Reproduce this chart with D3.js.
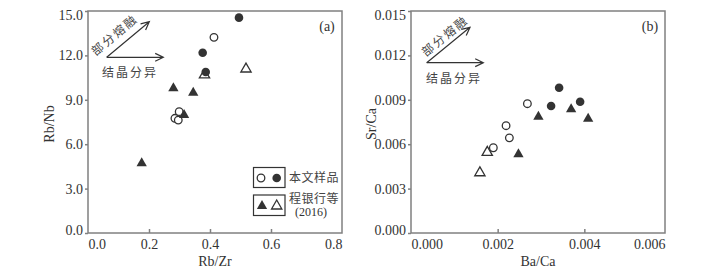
<!DOCTYPE html>
<html>
<head>
    <script src="https://cdnjs.cloudflare.com/ajax/libs/d3/7.8.5/d3.min.js"></script>
    <style>
        body { margin: 0; background: #fff; }
        .tick text { font-family: 'Liberation Serif', 'DejaVu Serif', serif; font-size: 14px; fill: #333; }
        .title { font-family: 'Liberation Serif', serif; font-size: 14px; fill: #333; }
        .cn { font-family: 'Noto Sans CJK SC', sans-serif; font-size: 12px; fill: #444; }
    </style>
</head>
<body>
<script>
    // panel (a) Rb/Zr vs Rb/Nb
    const aXTicks = [0, 0.2, 0.4, 0.6, 0.8]
    const aYTicks = [0, 3, 6, 9, 12, 15]
    const aOpenCircle = [[0.413, 13.22], [0.299, 8.2], [0.285, 7.75], [0.296, 7.63]]
    const aFilledCircle = [[0.495, 14.55], [0.376, 12.18], [0.386, 10.88]]
    const aFilledTri = [[0.280, 9.78], [0.345, 9.48], [0.315, 7.97], [0.176, 4.71]]
    const aOpenTri = [[0.382, 10.68], [0.518, 11.08]]

    // panel (b) Ba/Ca vs Sr/Ca
    const bXTicks = [0, 0.002, 0.004, 0.006]
    const bYTicks = [0, 0.003, 0.006, 0.009, 0.012, 0.015]
    const bOpenCircle = [[0.002686, 0.008736], [0.002194, 0.00725], [0.00227, 0.00643], [0.0019, 0.00576]]
    const bFilledCircle = [[0.003418, 0.009818], [0.003233, 0.008581], [0.003903, 0.008872]]
    const bFilledTri = [[0.00294, 0.00786], [0.003695, 0.00836], [0.004088, 0.00772], [0.00248, 0.00532]]
    const bOpenTri = [[0.00176, 0.00545], [0.00159, 0.00407]]

    const dark = '#333'
    const frameColor = '#808080'

    const svg = d3.select("body").append("svg")
        .attr("width", 721)
        .attr("height", 271)

    const tri = d3.symbol().type(d3.symbolTriangle).size(46)

    function drawPanel(p) {
        const x = d3.scaleLinear().domain([p.xTicks[0], p.xTicks[p.xTicks.length - 1]]).range([p.left, p.xEnd])
        const y = d3.scaleLinear().domain([p.yTicks[0], p.yTicks[p.yTicks.length - 1]]).range([p.bottom, p.top])
        const g = svg.append("g")

        // x axis, ticks pointing inward
        const xa = g.append("g")
            .attr("transform", `translate(0,${p.bottom})`)
            .call(d3.axisBottom(x).tickValues(p.xTicks).tickFormat(d3.format(p.xFmt)).tickSizeInner(-4).tickSizeOuter(0).tickPadding(6))
        xa.select(".domain").remove()
        xa.selectAll(".tick line").attr("stroke", frameColor).attr("stroke-width", 1.5)
            .filter((d, i) => i == 0 || i == p.xTicks.length - 1).remove()
        xa.selectAll(".tick text").each(function (d, i) {
            if (i == 0) d3.select(this).attr("text-anchor", "start").attr("x", 0)
            if (i == p.xTicks.length - 1) d3.select(this).attr("text-anchor", "end").attr("x", p.right - x(d))
        })

        // y axis, ticks outward
        const ya = g.append("g")
            .attr("transform", `translate(${p.left},0)`)
            .call(d3.axisLeft(y).tickValues(p.yTicks).tickFormat(d3.format(p.yFmt)).tickSizeInner(3).tickSizeOuter(0).tickPadding(2))
        ya.select(".domain").remove()
        ya.selectAll(".tick line").attr("stroke", frameColor).attr("stroke-width", 1.5)
        ya.selectAll(".tick text").each(function (d, i) {
            if (i == 0) d3.select(this).attr("dy", "0.1em")
            if (i == p.yTicks.length - 1) d3.select(this).attr("dy", "0.6em")
        })

        g.append("rect")
            .attr("x", p.left).attr("y", p.top)
            .attr("width", p.right - p.left).attr("height", p.bottom - p.top)
            .attr("fill", "none").attr("stroke", frameColor).attr("stroke-width", 1.5)

        g.append("text").attr("class", "title")
            .attr("x", (p.left + p.right) / 2).attr("y", 266)
            .attr("text-anchor", "middle").text(p.xTitle)
        g.append("text").attr("class", "title")
            .attr("transform", `translate(${p.yTitleX},124) rotate(-90)`)
            .attr("text-anchor", "middle").text(p.yTitle)
        g.append("text").attr("class", "title")
            .attr("x", p.tagX).attr("y", 31)
            .attr("text-anchor", "middle").text(p.tag)

        // arrows
        const s = p.arrowStart
        drawArrow(g, s, p.upEnd)
        drawArrow(g, s, p.rightEnd)
        const ang = Math.atan2(p.upEnd[1] - s[1], p.upEnd[0] - s[0]) * 180 / Math.PI
        g.append("text").attr("class", "cn")
            .attr("transform", `translate(${p.meltText[0]},${p.meltText[1]}) rotate(${ang})`)
            .attr("text-anchor", "middle").attr("dy", "0.35em")
            .attr("letter-spacing", 2).text("部分熔融")
        g.append("text").attr("class", "cn")
            .attr("x", p.fracText[0]).attr("y", p.fracText[1])
            .attr("text-anchor", "middle").attr("dy", "0.35em")
            .attr("letter-spacing", 2).text("结晶分异")

        // points
        g.selectAll(".ot").data(p.openTri).enter().append("path")
            .attr("d", tri).attr("transform", d => `translate(${x(d[0])},${y(d[1])})`)
            .attr("fill", "#fff").attr("stroke", dark).attr("stroke-width", 1.3)
        g.selectAll(".oc").data(p.openCircle).enter().append("circle")
            .attr("cx", d => x(d[0])).attr("cy", d => y(d[1])).attr("r", 3.8)
            .attr("fill", "#fff").attr("stroke", dark).attr("stroke-width", 1.3)
        g.selectAll(".ft").data(p.filledTri).enter().append("path")
            .attr("d", tri).attr("transform", d => `translate(${x(d[0])},${y(d[1])})`)
            .attr("fill", dark)
        g.selectAll(".fc").data(p.filledCircle).enter().append("circle")
            .attr("cx", d => x(d[0])).attr("cy", d => y(d[1])).attr("r", 4.3)
            .attr("fill", dark)
    }

    function drawArrow(g, a, b) {
        const ang = Math.atan2(b[1] - a[1], b[0] - a[0])
        const L = 9, w = 0.45
        g.append("path")
            .attr("d", `M${a[0]},${a[1]}L${b[0]},${b[1]}` +
                `M${b[0] - L * Math.cos(ang - w)},${b[1] - L * Math.sin(ang - w)}L${b[0]},${b[1]}` +
                `L${b[0] - L * Math.cos(ang + w)},${b[1] - L * Math.sin(ang + w)}`)
            .attr("fill", "none").attr("stroke", dark).attr("stroke-width", 1.2)
    }

    drawPanel({
        xTicks: aXTicks, yTicks: aYTicks, xFmt: ".1f", yFmt: ".1f",
        left: 88, xEnd: 332, right: 342, top: 11, bottom: 233,
        openCircle: aOpenCircle, filledCircle: aFilledCircle, filledTri: aFilledTri, openTri: aOpenTri,
        xTitle: "Rb/Zr", yTitle: "Rb/Nb", yTitleX: 54, tag: "(a)", tagX: 327,
        arrowStart: [106.7, 57.3], upEnd: [149.3, 21.7], rightEnd: [163.3, 57.3],
        meltText: [114.5, 35], fracText: [130, 73]
    })

    drawPanel({
        xTicks: bXTicks, yTicks: bYTicks, xFmt: ".3f", yFmt: ".3f",
        left: 411, xEnd: 671, right: 665, top: 11, bottom: 233,
        openCircle: bOpenCircle, filledCircle: bFilledCircle, filledTri: bFilledTri, openTri: bOpenTri,
        xTitle: "Ba/Ca", yTitle: "Sr/Ca", yTitleX: 376, tag: "(b)", tagX: 650,
        arrowStart: [426.7, 62.7], upEnd: [470, 27.3], rightEnd: [483.3, 62.7],
        meltText: [445, 36], fracText: [454, 79]
    })

    // legend in panel (a)
    const lg = svg.append("g")
    lg.append("rect").attr("x", 253.5).attr("y", 167.5).attr("width", 31.5).attr("height", 20)
        .attr("fill", "#fff").attr("stroke", dark).attr("stroke-width", 1.2)
    lg.append("rect").attr("x", 253.5).attr("y", 195).attr("width", 31.5).attr("height", 20.5)
        .attr("fill", "#fff").attr("stroke", dark).attr("stroke-width", 1.2)
    lg.append("circle").attr("cx", 261).attr("cy", 178).attr("r", 3.8)
        .attr("fill", "#fff").attr("stroke", dark).attr("stroke-width", 1.3)
    lg.append("circle").attr("cx", 276.7).attr("cy", 178).attr("r", 4.3).attr("fill", dark)
    lg.append("path").attr("d", tri).attr("transform", "translate(262,206)").attr("fill", dark)
    lg.append("path").attr("d", tri).attr("transform", "translate(276.7,206)")
        .attr("fill", "#fff").attr("stroke", dark).attr("stroke-width", 1.3)
    lg.append("text").attr("class", "cn").attr("x", 289).attr("y", 178).attr("dy", "0.35em")
        .attr("letter-spacing", 0.5).text("本文样品")
    lg.append("text").attr("class", "cn").attr("x", 289).attr("y", 203)
        .attr("letter-spacing", 0.5).text("程银行等")
    lg.append("text").attr("class", "title").attr("x", 311).attr("y", 216)
        .attr("text-anchor", "middle").style("font-size", "12px").text("(2016)")
</script>
</body>
</html>
